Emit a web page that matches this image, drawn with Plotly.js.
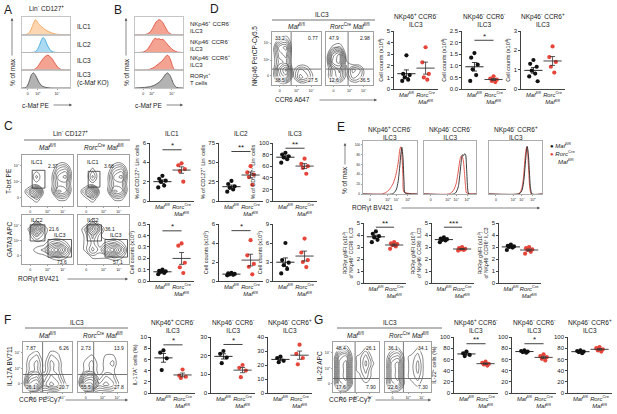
<!DOCTYPE html>
<html><head><meta charset="utf-8">
<script src="https://cdn.plot.ly/plotly-3.0.1.min.js"></script>
<style>html,body{margin:0;padding:0;background:#fff}#chart{width:617px;height:414px}</style>
</head><body><div id="chart"></div>
<script>
// ================= DATA =================
const groupLabels = ['<i>Maf</i><sup>fl/fl</sup>', '<i>Rorc</i><sup>Cre</sup><br><i>Maf</i><sup>fl/fl</sup>'];
const subsetTitles = ['NKp46<sup>+</sup> CCR6<sup>-</sup><br>ILC3', 'NKp46<sup>-</sup> CCR6<sup>-</sup><br>ILC3', 'NKp46<sup>-</sup> CCR6<sup>+</sup><br>ILC3'];
const logTicks = ['0', '10<sup>3</sup>', '10<sup>4</sup>'];

// A: c-Maf histograms (% of max, 0-1)
const aILC1X = [0,8,14,18,22,25,28,31,34,38,42,48,55,62,70,80,100];
const aILC1Y = [0,0.02,0.1,0.3,0.6,0.85,1.0,0.9,0.75,0.62,0.5,0.35,0.22,0.12,0.05,0.01,0];
const aILC2X = [0,20,28,32,36,40,44,48,52,56,60,66,75,100];
const aILC2Y = [0,0,0.05,0.2,0.45,0.8,1.0,0.85,0.55,0.3,0.12,0.03,0,0];
const aILC3X = [0,20,28,34,40,46,50,54,58,62,66,70,76,84,100];
const aILC3Y = [0,0.02,0.1,0.3,0.6,0.85,0.95,1.0,0.92,0.8,0.6,0.4,0.15,0.03,0];
const aKOX = [0,8,12,16,20,24,28,32,36,40,46,54,64,100];
const aKOY = [0,0.03,0.2,0.55,0.9,1.0,0.85,0.6,0.35,0.18,0.07,0.02,0,0];
// B: c-Maf histograms
const bP1X = [0,20,26,32,38,44,50,54,58,64,70,76,100];
const bP1Y = [0,0.01,0.06,0.2,0.5,0.85,1.0,0.95,0.8,0.45,0.15,0.02,0];
const bP2X = [0,16,22,28,34,38,42,46,50,54,58,62,66,72,80,88,100];
const bP2Y = [0,0.02,0.1,0.3,0.6,0.82,0.95,0.88,0.92,0.85,0.88,0.75,0.6,0.38,0.15,0.03,0];
const bP3X = [0,24,32,40,46,52,56,60,64,67,70,74,78,82,100];
const bP3Y = [0,0.02,0.08,0.2,0.35,0.5,0.6,0.75,0.92,1.0,0.95,0.7,0.3,0.05,0];
const bTX = [0,10,20,30,40,48,54,60,64,68,72,76,80,86,100];
const bTY = [0,0.02,0.04,0.08,0.18,0.33,0.5,0.75,0.93,1.0,0.88,0.62,0.3,0.05,0];

// Flow density grids (rows bottom -> top)
const flowGrid = [0,0.143,0.286,0.429,0.571,0.714,0.857,1];
const dFlowMaf = [[0,0,0,0,0,0,0,0],[0,5,7,1,5,4,1,0],[0,6,9,1,4,3,0,0],[0,4,5,0,0,0,0,0],[0,5,6,0,0,0,0,0],[0,6,7,0,0,0,0,0],[0,2,3,0,0,0,0,0],[0,0,0,0,0,0,0,0]];
const dFlowRorc = [[0,0,0,0,0,0,0,0],[0,4,5,1,4,3,0,0],[0,4,6,1,5,4,0,0],[0,8,9,2,0,0,0,0],[0,7,9,1,0,0,0,0],[0,2,3,0,0,0,0,0],[0,0,0,0,0,0,0,0],[0,0,0,0,0,0,0,0]];
const cTbetMaf = [[0,0,0,0,0,0,0,0],[0,1,3,0,0,2,2,0],[0,4,9,1,1,7,6,0],[0,0,1,0,1,5,5,0],[0,0,3,0,1,6,7,0],[0,0,1,0,0,4,5,0],[0,0,0,0,0,1,1,0],[0,0,0,0,0,0,0,0]];
const cTbetRorc = [[0,0,0,0,0,0,0,0],[0,1,3,0,0,2,2,0],[0,4,9,1,1,7,6,0],[0,0,1,0,1,5,5,0],[0,0,4,0,1,6,7,0],[0,0,2,0,0,4,5,0],[0,0,0,0,0,1,1,0],[0,0,0,0,0,0,0,0]];
const cGataMaf = [[0,0,0,0,0,0,0,0],[0,0,1,1,2,3,2,0],[0,1,2,3,7,9,5,0],[0,0,1,1,3,4,2,0],[0,1,4,2,0,0,0,0],[0,2,9,3,0,0,0,0],[0,0,2,0,0,0,0,0],[0,0,0,0,0,0,0,0]];
const cGataRorc = [[0,0,0,0,0,0,0,0],[0,0,2,2,2,3,2,0],[0,2,5,3,7,9,5,0],[0,2,4,2,3,4,2,0],[0,2,5,2,0,0,0,0],[0,3,9,4,0,0,0,0],[0,0,3,0,0,0,0,0],[0,0,0,0,0,0,0,0]];
const fFlowMaf = [[0,1,2,1,1,1,0,0],[0,8,9,4,6,5,2,0],[0,6,7,3,5,4,1,0],[0,3,4,1,4,3,0,0],[0,3,4,1,4,3,0,0],[0,2,3,0,3,2,0,0],[0,0,1,0,1,1,0,0],[0,0,0,0,0,0,0,0]];
const fFlowRorc = [[0,1,2,1,1,1,0,0],[0,9,9,4,5,4,1,0],[0,6,7,2,4,3,0,0],[0,2,3,1,2,2,0,0],[0,2,3,1,2,3,0,0],[0,1,2,0,2,2,0,0],[0,0,0,0,0,0,0,0],[0,0,0,0,0,0,0,0]];
const gFlowMaf = [[0,1,1,0,0,0,0,0],[0,6,7,1,0,1,0,0],[0,7,8,1,1,3,1,0],[0,7,8,1,2,4,1,0],[0,7,8,1,2,5,2,0],[0,6,7,1,2,4,1,0],[0,2,3,0,0,2,0,0],[0,0,0,0,0,0,0,0]];
const gFlowRorc = [[0,1,1,0,0,0,0,0],[0,5,6,1,1,2,0,0],[0,6,7,1,2,3,1,0],[0,6,7,1,2,4,1,0],[0,6,7,1,2,4,1,0],[0,4,5,1,2,3,1,0],[0,1,2,0,0,2,0,0],[0,0,0,0,0,0,0,0]];
const dQuad = [['33.2','0.77','38.5','27.5'],['47.9','2.98','12.6','36.5']];
const fQuad = [['7.87','6.26','26.1','20.7'],['2.73','13.9','55.5','27.8']];
const gQuad = [['48.4','26.1','17.6','7.90'],['36.1','34.1','22.6','7.30']];
const cTbetGate = ['2.37','3.68'];
const cIlc2Gate = ['21.6','36.1'];
const cIlc3Gate = ['73.6','57.1'];

// D: cell counts (x10^4)
const dNKpMaf = [2.9,1.3,1.2,1.0,0.8,0.7];
const dNKpRorc = [3.6,2.3,1.3,1.0,0.8];
const dDNMaf = [1.55,1.35,1.05,0.85,0.6,0.35];
const dDNRorc = [0.55,0.45,0.4,0.35,0.3];
const dCCR6Maf = [1.5,1.3,1.15,0.95,0.8,0.65,0.4];
const dCCR6Rorc = [2.2,1.65,1.4,1.15,0.85];
// C: % of CD127+ Lin- cells
const cILC1PctMaf = [2.6,2.3,2.1,2.0,1.6,1.4];
const cILC1PctRorc = [3.9,3.7,3.3,3.1,2.0];
const cILC2PctMaf = [26,22,19,17,15,12];
const cILC2PctRorc = [45,37,34,31,21];
const cILC3PctMaf = [83,80,77,75,72,66];
const cILC3PctRorc = [73,64,60,57,47];
// C: cell counts (x10^5)
const cILC1CntMaf = [0.1,0.09,0.085,0.08,0.07,0.06];
const cILC1CntRorc = [0.33,0.31,0.16,0.12,0.07];
const cILC2CntMaf = [0.85,0.8,0.75,0.7,0.65,0.6];
const cILC2CntRorc = [4.3,2.7,1.8,1.5,0.7];
const cILC3CntMaf = [6.0,3.3,2.9,2.5,1.9,1.2];
const cILC3CntRorc = [6.7,4.5,3.3,3.0,2.2];
// E: RORgt histograms (% of max)
const e1BlkX = [0,54,58,62,65,68,70,72,74,76,78,100];
const e1BlkY = [0,0,3,10,25,55,80,95,75,25,2,0];
const e1RedX = [0,36,42,48,52,56,60,63,66,68,70,72,74,76,100];
const e1RedY = [0,0,3,8,14,22,35,50,70,90,96,80,35,4,0];
const e2BlkX = [0,58,62,66,69,72,74,76,78,80,82,84,86,100];
const e2BlkY = [0,0,4,15,40,70,80,78,82,80,50,10,0,0];
const e2RedX = [0,48,54,58,62,65,68,70,72,74,76,78,80,82,100];
const e2RedY = [0,0,4,10,22,40,62,74,78,75,65,40,15,2,0];
const e3BlkX = [0,56,60,63,66,68,70,72,74,76,78,81,100];
const e3BlkY = [0,0,3,10,30,55,80,97,85,50,15,0,0];
const e3RedX = [0,55,59,62,65,67,69,71,73,75,77,80,100];
const e3RedY = [0,0,4,12,33,60,84,96,82,45,12,0,0];
// E: RORgt gMFI (x10^3)
const eNKpMaf = [4.3,4.1,3.9,3.8,3.6,3.4];
const eNKpRorc = [3.4,3.3,3.25,3.15,3.05,2.85];
const eDNMaf = [3.8,3.7,3.65,3.6,3.55,3.4];
const eDNRorc = [3.0,2.9,2.85,2.8,2.75,2.7];
const eCCR6Maf = [3.2,3.1,3.05,3.0,2.95,2.75];
const eCCR6Rorc = [3.0,2.9,2.8,2.75,2.6,2.45];
// F: IL-17A+ cells (%)
const fNKpMaf = [7.6,7.2,6.2,4.1];
const fNKpRorc = [4.2,3.1,2.9,2.7];
const fDNMaf = [22.5,21,19,16];
const fDNRorc = [15,13.5,12,8.5];
const fCCR6Maf = [26,25,23,22];
const fCCR6Rorc = [34.5,28,25,20.5];
// G: IL-22+ cells (%)
const gNKpMaf = [74,71,68,66];
const gNKpRorc = [56,54,52,51,49];
const gDNMaf = [76,75,74,73,72];
const gDNRorc = [69,66,64,61,58];
const gCCR6Maf = [76,75,74,73,71];
const gCCR6Rorc = [82,80,78,76,74];

// ================= BUILD =================
const W=617,H=414, RED='#e6453a', BLK='#111111';
const px=v=>v/W, py=v=>1-v/H;
const data=[], shapes=[], annotations=[];
const layout={width:W,height:H,margin:{l:0,r:0,t:0,b:0,pad:0},showlegend:false,
  paper_bgcolor:'#ffffff',plot_bgcolor:'rgba(0,0,0,0)',
  font:{family:'"Liberation Sans", Arial, sans-serif',size:6,color:'#1a1a1a'},shapes,annotations};
let n=0;
function axes(x0,x1,y0,y1,xo,yo){
  n++; const s=n===1?'':String(n);
  layout['xaxis'+s]=Object.assign({domain:[px(x0),px(x1)],anchor:'y'+s,showgrid:false,zeroline:false,fixedrange:true,automargin:false,tickangle:0},xo||{});
  layout['yaxis'+s]=Object.assign({domain:[py(y1),py(y0)],anchor:'x'+s,showgrid:false,zeroline:false,fixedrange:true,automargin:false,tickangle:0},yo||{});
  return {x:'x'+s,y:'y'+s};
}
function txt(t,x,y,o){annotations.push(Object.assign({text:t,x:px(x),y:py(y),xref:'paper',yref:'paper',showarrow:false,xanchor:'center',yanchor:'middle',font:{size:6.5}},o||{}));}
function arrow(x0,y0,x1,y1){annotations.push({text:'',x:px(x1),y:py(y1),xref:'paper',yref:'paper',showarrow:true,ax:x0-x1,ay:y0-y1,arrowhead:2,arrowsize:0.8,arrowwidth:0.7,arrowcolor:'#555',standoff:0});}
function hline(x0,x1,y){shapes.push({type:'line',xref:'paper',yref:'paper',x0:px(x0),x1:px(x1),y0:py(y),y1:py(y),line:{color:'#a0a0a0',width:1.3}});}

function histStack(x0,x1,y0,y1,rows,tv){
  const h=(y1-y0)/rows.length;
  rows.forEach((r,i)=>{
    const last=i===rows.length-1;
    const a=axes(x0,x1,y0+i*h,y0+(i+1)*h,
      {range:[0,100],showline:true,mirror:true,linecolor:'#b8b8b8',linewidth:0.8,ticks:last?'outside':'',ticklen:1.5,tickwidth:0.5,tickcolor:'#444',
       showticklabels:last,tickmode:'array',tickvals:last?tv:[],ticktext:last?logTicks:[],tickfont:{size:3.5}},
      {range:[0,1.18],showline:true,mirror:true,linecolor:'#b8b8b8',linewidth:0.8,showticklabels:false,ticks:''});
    data.push({type:'scatter',x:r[0],y:r[1],xaxis:a.x,yaxis:a.y,mode:'lines',line:{color:r[2],width:0.9,shape:'spline',smoothing:0.7},fill:'tozeroy',fillcolor:r[3],hoverinfo:'skip'});
  });
}
function flow(x0,x1,y0,y1,z,o){
  const a=axes(x0,x1,y0,y1,
    {range:[0,1],showline:true,mirror:true,linecolor:'#8a8a8a',linewidth:0.8,ticks:'outside',ticklen:1.5,tickwidth:0.5,tickcolor:'#444',tickmode:'array',tickvals:[0.16,0.5,0.8],ticktext:logTicks,tickfont:{size:3.5}},
    {range:[0,1],showline:true,mirror:true,linecolor:'#8a8a8a',linewidth:0.8,ticks:'outside',ticklen:1.5,tickwidth:0.5,tickcolor:'#444',tickmode:'array',tickvals:o.yt?[0.17,0.47,0.79]:[],ticktext:o.yt?logTicks:[],showticklabels:!!o.yt,tickfont:{size:3.5}});
  data.push({type:'contour',x:flowGrid,y:flowGrid,z:z,xaxis:a.x,yaxis:a.y,showscale:false,autocontour:false,
    contours:{coloring:'lines',start:1.6,end:9,size:1.0},line:{width:0.5,smoothing:1.3},colorscale:[[0,'#111'],[1,'#111']],hoverinfo:'skip'});
  if(o.q){
    shapes.push({type:'line',xref:a.x,yref:a.y,x0:o.q[0],x1:o.q[0],y0:0,y1:1,line:{color:'#555',width:0.8}});
    shapes.push({type:'line',xref:a.x,yref:a.y,x0:0,x1:1,y0:o.q[1],y1:o.q[1],line:{color:'#555',width:0.8}});
  }
  if(o.nums){
    const pos=[[0.04,0.97,'left','top'],[0.96,0.97,'right','top'],[0.04,0.02,'left','bottom'],[0.96,0.02,'right','bottom']];
    o.nums.forEach((t,i)=>annotations.push({text:t,xref:a.x,yref:a.y,x:pos[i][0],y:pos[i][1],xanchor:pos[i][2],yanchor:pos[i][3],showarrow:false,font:{size:5},bgcolor:'rgba(255,255,255,0.7)',borderpad:0}));
  }
  (o.gates||[]).forEach(g=>shapes.push({type:'rect',xref:a.x,yref:a.y,x0:g[0],x1:g[1],y0:g[2],y1:g[3],line:{color:'#333',width:0.8}}));
  (o.labels||[]).forEach(l=>annotations.push({text:l[0],xref:a.x,yref:a.y,x:l[1],y:l[2],showarrow:false,font:{size:l[3]||5}}));
  return a;
}
function mean(v){return v.reduce((s,x)=>s+x,0)/v.length;}
function sem(v){const m=mean(v);return Math.sqrt(v.reduce((s,x)=>s+(x-m)*(x-m),0)/(v.length-1))/Math.sqrt(v.length);}
function jitter(v){
  const pat=[0,-0.17,0.17,-0.09,0.09,-0.22,0.22];
  const idx=v.map((_,i)=>i).sort((a,b)=>v[b]-v[a]);
  const off=new Array(v.length); idx.forEach((k,r)=>off[k]=pat[r%pat.length]); return off;
}
function dots(x0,x1,y0,y1,o){
  const yo={range:[0,o.ymax],dtick:o.dtick,tick0:0,showline:true,linecolor:'#111',linewidth:0.8,ticks:'outside',ticklen:2,tickwidth:0.8,tickcolor:'#111',tickfont:{size:6}};
  if(o.fmt) yo.tickformat=o.fmt;
  if(o.yt) yo.title={text:o.yt,font:{size:o.ytSize||5.5},standoff:2};
  const a=axes(x0,x1,y0,y1,{range:[-0.65,1.65],tickmode:'array',tickvals:[0,1],ticktext:groupLabels,showline:true,linecolor:'#111',linewidth:0.8,ticks:'',tickfont:{size:5.8}},yo);
  [o.b,o.r].forEach((vals,g)=>{
    const xs=jitter(vals).map(d=>g+d);
    data.push({type:'scatter',mode:'markers',x:xs,y:vals,xaxis:a.x,yaxis:a.y,marker:{size:4.2,color:g?RED:BLK},cliponaxis:false,hoverinfo:'skip'});
  });
  [o.b,o.r].forEach((vals,g)=>{
    data.push({type:'scatter',mode:'markers',x:[g],y:[mean(vals)],xaxis:a.x,yaxis:a.y,
      marker:{symbol:'line-ew',size:13,color:'#111',line:{width:0.9,color:g?'#333':'#111'}},
      error_y:{type:'data',array:[sem(vals)],visible:true,width:2.5,thickness:0.8,color:g?'#333':'#111'},cliponaxis:false,hoverinfo:'skip'});
  });
  if(o.sig){
    shapes.push({type:'line',xref:a.x,yref:a.y,x0:0,x1:1,y0:o.sig[0],y1:o.sig[0],line:{color:'#111',width:0.8}});
    annotations.push({text:o.sig[1],xref:a.x,yref:a.y,x:0.5,y:o.sig[0],yanchor:'bottom',yshift:-2.5,showarrow:false,font:{size:8}});
  }
  if(o.title) txt(o.title,(x0+x1)/2,o.ty,{font:{size:6.5}});
  return a;
}

// ---- A ----
txt('A',2,10,{font:{size:12},xanchor:'left'});
txt('Lin<sup>-</sup> CD127<sup>+</sup>',46,8);
histStack(22,70,17,88,[[aILC1X,aILC1Y,'#f3a257','#fcd6b0'],[aILC2X,aILC2Y,'#3ea8df','#abdaf2'],[aILC3X,aILC3Y,'#e0503c','#f4a393'],[aKOX,aKOY,'#555555','#b3b3b3']],[12,33,73]);
txt('ILC1',75,26,{xanchor:'left'}); txt('ILC2',75,44,{xanchor:'left'}); txt('ILC3',75,61,{xanchor:'left'});
txt('ILC3<br>(c-Maf KO)',75,79,{xanchor:'left',align:'left'});
txt('% of max',12,72,{textangle:-90}); arrow(12,57,12,18);
txt('c-Maf PE',35,105); arrow(52,105,72,105);

// ---- B ----
txt('B',112,10,{font:{size:12},xanchor:'left'});
histStack(135,183,17,88,[[bP1X,bP1Y,'#e0503c','#f4a393'],[bP2X,bP2Y,'#e0503c','#f4a393'],[bP3X,bP3Y,'#e0503c','#f4a393'],[bTX,bTY,'#555555','#b3b3b3']],[17,35,77]);
txt(subsetTitles[0],188,26,{xanchor:'left',align:'left',font:{size:6}});
txt(subsetTitles[1],188,44,{xanchor:'left',align:'left',font:{size:6}});
txt(subsetTitles[2],188,61,{xanchor:'left',align:'left',font:{size:6}});
txt('RORγt<sup>+</sup><br>T cells',188,79,{xanchor:'left',align:'left',font:{size:6}});
txt('% of max',126,72,{textangle:-90}); arrow(126,57,126,18);
txt('c-Maf PE',148,105); arrow(165,105,183,105);

// ---- D ----
txt('D',208,9,{font:{size:12},xanchor:'left'});
txt('ILC3',322,14); hline(272,375,20);
txt(groupLabels[0],296,26); txt('<i>Rorc</i><sup>Cre</sup> <i>Maf</i><sup>fl/fl</sup>',350,26);
flow(272,321,32,85,dFlowMaf,{q:[0.39,0.3],yt:true,nums:dQuad[0]});
flow(326,373,32,85,dFlowRorc,{q:[0.47,0.3],nums:dQuad[1]});
txt('NKp46 PerCP-Cy5.5',255,56,{textangle:-90});
txt('CCR6 A647',292,100); arrow(318,100,377,100);
dots(394,438,31,89,{ymax:5,dtick:1,b:dNKpMaf,r:dNKpRorc,yt:'Cell counts (x10<sup>4</sup>)',title:subsetTitles[0],ty:20});
dots(462,506,31,89,{ymax:2.5,dtick:0.5,fmt:'.1f',b:dDNMaf,r:dDNRorc,yt:'Cell counts (x10<sup>4</sup>)',sig:[2.1,'*'],title:subsetTitles[1],ty:20});
dots(521,565,31,89,{ymax:3,dtick:1,b:dCCR6Maf,r:dCCR6Rorc,yt:'Cell counts (x10<sup>4</sup>)',title:subsetTitles[2],ty:20});

// ---- C ----
txt('C',2,126,{font:{size:12},xanchor:'left'});
txt('Lin<sup>-</sup> CD127<sup>+</sup>',70,133); hline(24,130,140);
txt(groupLabels[0],47,147); txt('<i>Rorc</i><sup>Cre</sup> <i>Maf</i><sup>fl/fl</sup>',104,147);
flow(22,73,155,206,cTbetMaf,{yt:true,gates:[[0.2,0.45,0.35,0.7]],labels:[['ILC1',0.3,0.86,5.5],[cTbetGate[0],0.6,0.78]]});
flow(78,129,155,206,cTbetRorc,{gates:[[0.2,0.43,0.37,0.68]],labels:[['ILC1',0.3,0.86,5.5],[cTbetGate[1],0.6,0.78]]});
flow(22,73,215,264,cGataMaf,{yt:true,gates:[[0.16,0.45,0.47,0.8],[0.51,0.97,0.14,0.5]],labels:[['ILC2',0.3,0.9,5.5],[cIlc2Gate[0],0.62,0.72],['ILC3',0.75,0.6,5.5],[cIlc3Gate[0],0.78,0.05]]});
flow(78,129,215,264,cGataRorc,{gates:[[0.18,0.46,0.47,0.8],[0.53,0.97,0.14,0.5]],labels:[['ILC2',0.3,0.9,5.5],[cIlc2Gate[1],0.62,0.72],['ILC3',0.75,0.6,5.5],[cIlc3Gate[1],0.78,0.05]]});
txt('T-bet PE',9,181,{textangle:-90}); txt('GATA3 APC',9,240,{textangle:-90});
txt('RORγt BV421',38,279); arrow(66,279,128,279);
const cPct='% of CD127<sup>+</sup> Lin<sup>-</sup> cells', cCnt='Cell counts (x10<sup>5</sup>)';
dots(150,194,143,201,{ymax:6,dtick:2,b:cILC1PctMaf,r:cILC1PctRorc,yt:cPct,sig:[5.3,'*'],title:'ILC1',ty:133});
dots(219,263,143,201,{ymax:75,dtick:25,b:cILC2PctMaf,r:cILC2PctRorc,yt:cPct,sig:[64,'**'],title:'ILC2',ty:133});
dots(273,317,143,201,{ymax:100,dtick:20,b:cILC3PctMaf,r:cILC3PctRorc,yt:cPct,sig:[91,'**'],title:'ILC3',ty:133});
dots(150,194,224,281,{ymax:0.5,dtick:0.1,fmt:'.1f',b:cILC1CntMaf,r:cILC1CntRorc,yt:cCnt,sig:[0.44,'*']});
dots(219,263,224,281,{ymax:6,dtick:2,b:cILC2CntMaf,r:cILC2CntRorc,yt:cCnt,sig:[5.3,'*']});
dots(273,317,224,281,{ymax:9,dtick:3,b:cILC3CntMaf,r:cILC3CntRorc,yt:cCnt});

// ---- E ----
txt('E',335,127,{font:{size:12},xanchor:'left'});
const eH=[[363,417,e1RedX,e1RedY,e1BlkX,e1BlkY],[424,476,e2RedX,e2RedY,e2BlkX,e2BlkY],[489,542,e3RedX,e3RedY,e3BlkX,e3BlkY]];
eH.forEach((h,i)=>{
  const a=axes(h[0],h[1],141,194,
    {range:[0,100],showline:true,mirror:true,linecolor:'#9a9a9a',linewidth:0.8,ticks:'outside',ticklen:1.5,tickwidth:0.5,tickcolor:'#444',tickmode:'array',tickvals:[13,46,62,83],ticktext:['0','10<sup>3</sup>','10<sup>4</sup>','10<sup>5</sup>'],tickfont:{size:3.5}},
    {range:[0,108],showline:true,mirror:true,linecolor:'#9a9a9a',linewidth:0.8,ticks:'outside',ticklen:1.5,tickwidth:0.5,tickcolor:'#444',tickmode:'array',tickvals:i===0?[0,20,40,60,80,100]:[],showticklabels:i===0,tickfont:{size:3.2}});
  data.push({type:'scatter',mode:'lines',x:h[2],y:h[3],xaxis:a.x,yaxis:a.y,line:{color:'#e0463c',width:0.9,shape:'spline',smoothing:0.6},hoverinfo:'skip'});
  data.push({type:'scatter',mode:'lines',x:h[4],y:h[5],xaxis:a.x,yaxis:a.y,line:{color:'#222',width:0.9,shape:'spline',smoothing:0.6},hoverinfo:'skip'});
  txt(subsetTitles[i],(h[0]+h[1])/2,133,{font:{size:6.5}});
});
txt('% of max',345,180,{textangle:-90}); arrow(345,166,345,143);
txt('RORγt BV421',372,208); arrow(400,208,540,208);
txt('<span style="color:#111">●</span> <i>Maf</i><sup>fl/fl</sup>',548,145,{xanchor:'left',font:{size:6}});
txt('<span style="color:#e6453a">●</span> <i>Rorc</i><sup>Cre</sup>',548,153,{xanchor:'left',font:{size:6}});
txt('<i>Maf</i><sup>fl/fl</sup>',556,161,{xanchor:'left',font:{size:6}});
const eT=s=>'RORγt gMFI (x10<sup>3</sup>)<br>of '+s+' ILC3';
dots(364,406,223,283,{ymax:5,dtick:1,b:eNKpMaf,r:eNKpRorc,yt:eT('NKp46<sup>+</sup> CCR6<sup>-</sup>'),ytSize:5,sig:[4.65,'**']});
dots(432,474,223,283,{ymax:5,dtick:1,b:eDNMaf,r:eDNRorc,yt:eT('NKp46<sup>-</sup> CCR6<sup>-</sup>'),ytSize:5,sig:[4.65,'***']});
dots(499,541,223,283,{ymax:5,dtick:1,b:eCCR6Maf,r:eCCR6Rorc,yt:eT('NKp46<sup>-</sup> CCR6<sup>+</sup>'),ytSize:5});

// ---- F ----
txt('F',2,320,{font:{size:12},xanchor:'left'});
txt('ILC3',77,322); hline(25,128,328);
txt(groupLabels[0],47,335); txt('<i>Rorc</i><sup>Cre</sup> <i>Maf</i><sup>fl/fl</sup>',103,335);
flow(23,72,342,392,fFlowMaf,{q:[0.4,0.35],yt:true,nums:fQuad[0]});
flow(78,127,342,392,fFlowRorc,{q:[0.32,0.35],nums:fQuad[1]});
txt('IL-17A BV711',9,366,{textangle:-90});
txt('CCR6 PE-Cy7',40,400); arrow(64,400,128,400);
dots(151,195,337,393,{ymax:10,dtick:2,b:fNKpMaf,r:fNKpRorc,yt:'IL-17A<sup>+</sup> cells (%)',sig:[8.6,'*'],title:subsetTitles[0],ty:326});
dots(211,255,337,393,{ymax:30,dtick:10,b:fDNMaf,r:fDNRorc,sig:[26,'*'],title:subsetTitles[1],ty:326});
dots(268,312,337,393,{ymax:40,dtick:10,b:fCCR6Maf,r:fCCR6Rorc,title:subsetTitles[2],ty:326});

// ---- G ----
txt('G',312,320,{font:{size:12},xanchor:'left'});
txt('ILC3',390,322); hline(337,442,328);
txt(groupLabels[0],355,335); txt('<i>Rorc</i><sup>Cre</sup> <i>Maf</i><sup>fl/fl</sup>',409,335);
flow(333,379,342,392,gFlowMaf,{q:[0.48,0.27],yt:true,nums:gQuad[0]});
flow(385,431,342,392,gFlowRorc,{q:[0.4,0.27],nums:gQuad[1]});
txt('IL-22 APC',319,366,{textangle:-90});
txt('CCR6 PE-Cy7',350,400); arrow(374,400,431,400);
dots(454,498,337,393,{ymax:100,dtick:20,b:gNKpMaf,r:gNKpRorc,yt:'IL-22<sup>+</sup> cells (%)',sig:[88,'**'],title:subsetTitles[0],ty:326});
dots(512,556,337,393,{ymax:100,dtick:20,b:gDNMaf,r:gDNRorc,sig:[88,'*'],title:subsetTitles[1],ty:326});
dots(568,612,337,393,{ymax:100,dtick:20,b:gCCR6Maf,r:gCCR6Rorc,title:subsetTitles[2],ty:326});

Plotly.newPlot('chart',data,layout,{staticPlot:true,displayModeBar:false});
</script></body></html>
